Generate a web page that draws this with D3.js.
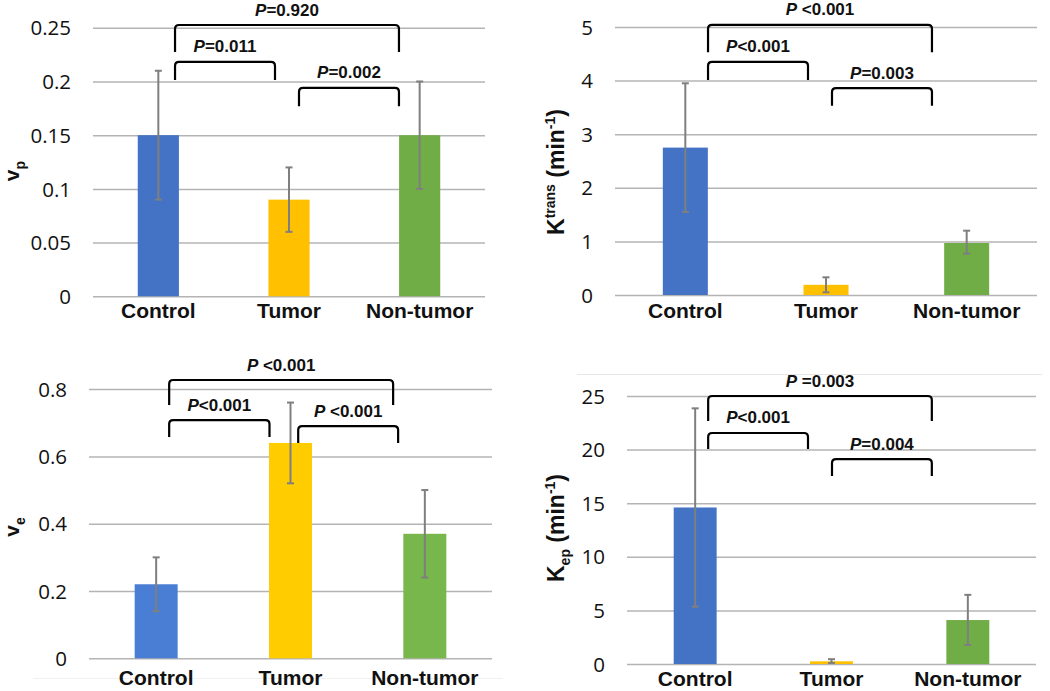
<!DOCTYPE html>
<html>
<head>
<meta charset="utf-8">
<script src="https://cdn.jsdelivr.net/npm/d3@7/dist/d3.min.js"></script>
<style>
  html, body { margin: 0; padding: 0; background: #fff; }
  svg { display: block; }
</style>
</head>
<body>
<svg id="chart" width="1050" height="691"></svg>
<script>
// ---------------- DATA ----------------
const categories = ["Control", "Tumor", "Non-tumor"];

// Panel A: vp
const vpValues   = [0.15, 0.09, 0.15];
const vpErrHigh  = [0.21, 0.12, 0.20];
const vpErrLow   = [0.09, 0.06, 0.10];
const vpTicks    = [0, 0.05, 0.1, 0.15, 0.2, 0.25];
const vpTickLabels = ["0", "0.05", "0.1", "0.15", "0.2", "0.25"];
const vpPairs    = [[0, 2], [0, 1], [1, 2]];
const vpPLabels  = ["P=0.920", "P=0.011", "P=0.002"];
const vpBracketTop  = [0.2526, 0.2182, 0.194];
const vpBracketFoot = [0.2275, 0.2014, 0.177];

// Panel B: Ktrans
const ktValues   = [2.75, 0.19, 0.97];
const ktErrHigh  = [3.95, 0.33, 1.20];
const ktErrLow   = [1.55, 0.05, 0.77];
const ktTicks    = [0, 1, 2, 3, 4, 5];
const ktTickLabels = ["0", "1", "2", "3", "4", "5"];
const ktPairs    = [[0, 2], [0, 1], [1, 2]];
const ktPLabels  = ["P <0.001", "P<0.001", "P=0.003"];
const ktBracketTop  = [5.04, 4.35, 3.86];
const ktBracketFoot = [4.53, 4.01, 3.53];

// Panel C: ve
const veValues   = [0.22, 0.64, 0.37];
const veErrHigh  = [0.30, 0.76, 0.50];
const veErrLow   = [0.14, 0.52, 0.24];
const veTicks    = [0, 0.2, 0.4, 0.6, 0.8];
const veTickLabels = ["0", "0.2", "0.4", "0.6", "0.8"];
const vePairs    = [[0, 2], [0, 1], [1, 2]];
const vePLabels  = ["P <0.001", "P<0.001", "P <0.001"];
const veBracketTop  = [0.827, 0.708, 0.690];
const veBracketFoot = [0.753, 0.658, 0.640];

// Panel D: Kep
const kepValues  = [14.6, 0.25, 4.1];
const kepErrHigh = [23.85, 0.45, 6.45];
const kepErrLow  = [5.35, 0.10, 1.77];
const kepTicks   = [0, 5, 10, 15, 20, 25];
const kepTickLabels = ["0", "5", "10", "15", "20", "25"];
const kepPairs   = [[0, 2], [0, 1], [1, 2]];
const kepPLabels = ["P =0.003", "P<0.001", "P=0.004"];
const kepBracketTop  = [25.0, 21.55, 19.12];
const kepBracketFoot = [22.67, 20.06, 17.54];

// ---------------- LAYOUT ----------------
const topColors = ["#4472C4", "#FFC000", "#70AD47"];
const ve_Colors = ["#4A7DD4", "#FFCC00", "#78B74B"];

const panels = [
  { values: vpValues, hi: vpErrHigh, lo: vpErrLow, ticks: vpTicks, tickLabels: vpTickLabels,
    pairs: vpPairs, pLabels: vpPLabels, bTop: vpBracketTop, bFoot: vpBracketFoot,
    domain: [0, 0.25], x0: 93, x1: 485, yBottom: 296.3, yTop: 27.8, catY: 318,
    colors: topColors, barFrac: 0.315,
    bracketDx: [[16.7, -20.7], [16.7, -14], [10, -20.7]],
    ylab: { main: "v", sub: "p", mode: "sub", x: 19, y: 171, fs: 21 } },
  { values: ktValues, hi: ktErrHigh, lo: ktErrLow, ticks: ktTicks, tickLabels: ktTickLabels,
    pairs: ktPairs, pLabels: ktPLabels, bTop: ktBracketTop, bFoot: ktBracketFoot,
    domain: [0, 5], x0: 615, x1: 1037, yBottom: 295, yTop: 27, catY: 318,
    colors: topColors, barFrac: 0.32,
    bracketDx: [[22.7, -34.7], [22.7, -18], [6, -34.7]],
    ylab: { main: "K", sup: "trans", mode: "sup", x: 564, y: 172, fs: 23 } },
  { values: veValues, hi: veErrHigh, lo: veErrLow, ticks: veTicks, tickLabels: veTickLabels,
    pairs: vePairs, pLabels: vePLabels, bTop: veBracketTop, bFoot: veBracketFoot,
    domain: [0, 0.8], x0: 89, x1: 492, yBottom: 658.3, yTop: 389.1, catY: 685,
    colors: ve_Colors, barFrac: 0.32,
    bracketDx: [[13, -31.7], [13, -21], [7.7, -26.7]],
    ylab: { main: "v", sub: "e", mode: "sub", x: 19, y: 527, fs: 21 } },
  { values: kepValues, hi: kepErrHigh, lo: kepErrLow, ticks: kepTicks, tickLabels: kepTickLabels,
    pairs: kepPairs, pLabels: kepPLabels, bTop: kepBracketTop, bFoot: kepBracketFoot,
    domain: [0, 25], x0: 627, x1: 1036, yBottom: 664, yTop: 396, catY: 686,
    colors: topColors, barFrac: 0.315,
    bracketDx: [[13, -36], [13, -23.5], [0.5, -36]],
    ylab: { main: "K", sub: "ep", mode: "subK", x: 564, y: 528, fs: 23 } }
];

const svg = d3.select("#chart");

// faint panel frame lines seen in the reference
svg.append("line").attr("x1", 33).attr("x2", 503).attr("y1", 678.5).attr("y2", 678.5)
  .attr("stroke", "#f0f0f0").attr("stroke-width", 1);
svg.append("line").attr("x1", 577).attr("x2", 1042).attr("y1", 374.5).attr("y2", 374.5)
  .attr("stroke", "#e6e6e6").attr("stroke-width", 1);

panels.forEach(p => {
  const g = svg.append("g");
  const x = d3.scaleBand().domain(categories).range([p.x0, p.x1]).padding(0);
  const y = d3.scaleLinear().domain(p.domain).range([p.yBottom, p.yTop]);
  const cx = c => x(c) + x.bandwidth() / 2;
  const bw = x.bandwidth() * p.barFrac;

  // gridlines + tick labels via d3 axis
  const axis = d3.axisLeft(y).tickValues(p.ticks)
    .tickFormat((d, i) => p.tickLabels[i])
    .tickSize(-(p.x1 - p.x0)).tickPadding(22);
  const ag = g.append("g").attr("transform", `translate(${p.x0},0)`).call(axis);
  ag.select(".domain").remove();
  ag.selectAll(".tick line").attr("stroke", "#b4b4b4").attr("stroke-width", 1.5);
  ag.selectAll(".tick text").attr("font-family", "'Open Sans', sans-serif")
    .attr("font-size", 20.5).attr("fill", "#111").attr("dy", "0.35em");

  // bars
  g.selectAll("rect.bar").data(categories).enter().append("rect")
    .attr("x", c => cx(c) - bw / 2)
    .attr("y", (c, i) => y(p.values[i]))
    .attr("width", bw)
    .attr("height", (c, i) => y(0) - y(p.values[i]))
    .attr("fill", (c, i) => p.colors[i]);

  // error bars
  const eg = g.append("g").attr("stroke", "#7f7f7f").attr("stroke-width", 2).attr("fill", "none");
  categories.forEach((c, i) => {
    const xc = cx(c);
    eg.append("line").attr("x1", xc).attr("x2", xc).attr("y1", y(p.hi[i])).attr("y2", y(p.lo[i]));
    eg.append("line").attr("x1", xc - 3.5).attr("x2", xc + 3.5).attr("y1", y(p.hi[i])).attr("y2", y(p.hi[i]));
    eg.append("line").attr("x1", xc - 3.5).attr("x2", xc + 3.5).attr("y1", y(p.lo[i])).attr("y2", y(p.lo[i]));
  });

  // category labels
  g.selectAll("text.cat").data(categories).enter().append("text")
    .attr("x", c => cx(c)).attr("y", p.catY)
    .attr("text-anchor", "middle")
    .attr("font-family", "'Liberation Sans', Arial, sans-serif")
    .attr("font-weight", "bold").attr("font-size", 21).attr("fill", "#111")
    .text(c => c);

  // significance brackets
  p.pairs.forEach((pr, k) => {
    const xa = cx(categories[pr[0]]) + p.bracketDx[k][0];
    const xb = cx(categories[pr[1]]) + p.bracketDx[k][1];
    const yt = y(p.bTop[k]), yf = y(p.bFoot[k]);
    const r = 4;
    const path = `M${xa},${yf} L${xa},${yt + r} Q${xa},${yt} ${xa + r},${yt} L${xb - r},${yt} Q${xb},${yt} ${xb},${yt + r} L${xb},${yf}`;
    g.append("path").attr("d", path).attr("fill", "none").attr("stroke", "#000").attr("stroke-width", 2.2);
    const lab = p.pLabels[k];
    const t = g.append("text").attr("x", (xa + xb) / 2).attr("y", yt - 9.5)
      .attr("text-anchor", "middle")
      .attr("font-family", "'Liberation Sans', Arial, sans-serif")
      .attr("font-weight", "bold").attr("font-size", 17).attr("fill", "#111");
    t.append("tspan").attr("font-style", "italic").text(lab.charAt(0));
    t.append("tspan").text(lab.slice(1));
  });

  // y-axis label (rotated)
  const L = p.ylab;
  const yl = g.append("text")
    .attr("transform", `translate(${L.x},${L.y}) rotate(-90)`)
    .attr("text-anchor", "middle")
    .attr("font-family", "'Liberation Sans', Arial, sans-serif")
    .attr("font-weight", "bold").attr("font-size", L.fs).attr("fill", "#111");
  if (L.mode === "sub") {
    yl.append("tspan").text(L.main);
    yl.append("tspan").attr("font-size", 14).attr("dy", 6).text(L.sub);
  } else if (L.mode === "sup") {
    yl.append("tspan").text(L.main);
    yl.append("tspan").attr("font-size", 14).attr("dy", -9).text(L.sup);
    yl.append("tspan").attr("dy", 9).text(" (min");
    yl.append("tspan").attr("font-size", 14).attr("dy", -9).text("-1");
    yl.append("tspan").attr("dy", 9).text(")");
  } else {
    yl.append("tspan").text(L.main);
    yl.append("tspan").attr("font-size", 14).attr("dy", 6).text(L.sub);
    yl.append("tspan").attr("dy", -6).text(" (min");
    yl.append("tspan").attr("font-size", 14).attr("dy", -9).text("-1");
    yl.append("tspan").attr("dy", 9).text(")");
  }
});
</script>
</body>
</html>
